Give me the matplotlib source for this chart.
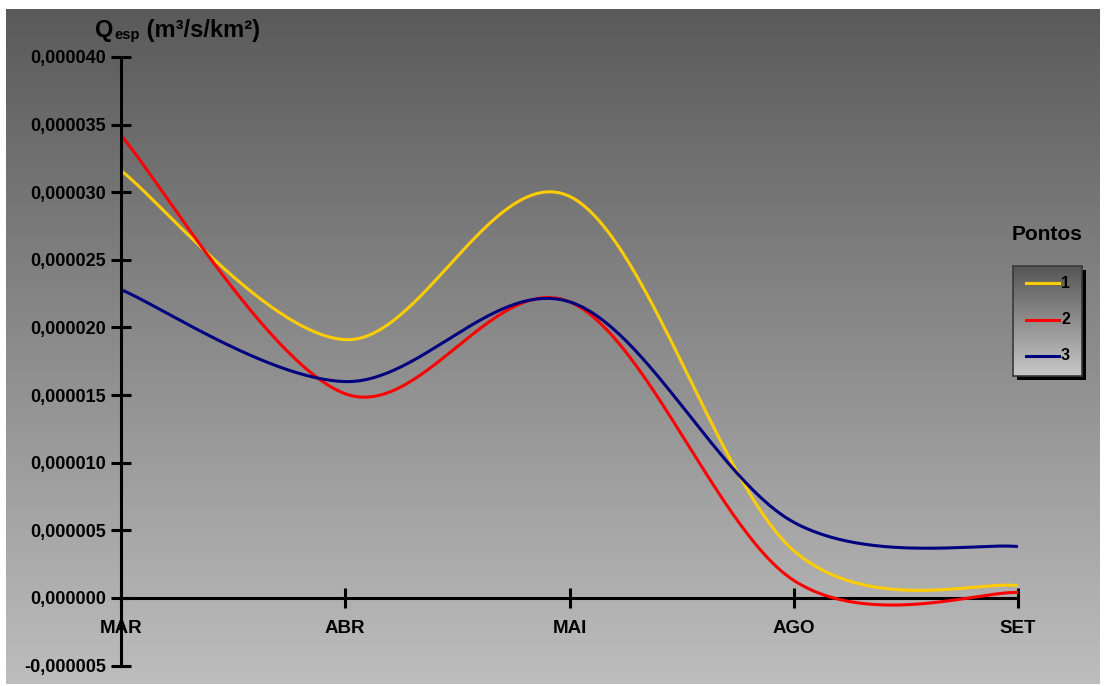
import numpy as np
import matplotlib
matplotlib.use("Agg")
import matplotlib.pyplot as plt
from matplotlib.patches import Rectangle
from matplotlib.lines import Line2D

plt.rcParams['font.family'] = ['Liberation Sans', 'DejaVu Sans']
plt.rcParams['font.weight'] = 'bold'

# Specific discharge per sampling point (m³/s/km²)
months = ["MAR", "ABR", "MAI", "AGO", "SET"]
ponto_1 = [0.0000316, 0.0000191, 0.0000297, 0.0000035, 0.0000009]
ponto_2 = [0.0000342, 0.0000151, 0.0000219, 0.0000013, 0.0000004]
ponto_3 = [0.0000228, 0.0000160, 0.0000219, 0.0000056, 0.0000038]
series_names = ["1", "2", "3"]
series_colors = ["#FFCC00", "#FF0000", "#000080"]

yticks = np.arange(-0.000005, 0.0000401, 0.000005)


def smooth(xs, ys, n=60):
    """Cubic Bezier smoothing through every point (Catmull-Rom style)."""
    pts = np.column_stack([xs, ys]).astype(float)
    m = len(pts)
    out = []
    for i in range(m - 1):
        p0 = pts[max(i - 1, 0)]
        p1 = pts[i]
        p2 = pts[i + 1]
        p3 = pts[min(i + 2, m - 1)]
        c1 = p1 + (p2 - p0) / 6.0
        c2 = p2 - (p3 - p1) / 6.0
        t = np.linspace(0, 1, n)[:, None]
        seg = ((1 - t) ** 3) * p1 + 3 * ((1 - t) ** 2) * t * c1 \
            + 3 * (1 - t) * t ** 2 * c2 + t ** 3 * p2
        out.append(seg if i == 0 else seg[1:])
    arr = np.vstack(out)
    return arr[:, 0], arr[:, 1]


W, H = 1104, 686
fig = plt.figure(figsize=(W / 100, H / 100), dpi=100)
fig.patch.set_facecolor("white")

# gray gradient panel behind everything
bg = fig.add_axes([6 / W, 1 - 684 / H, (1100 - 6) / W, (684 - 9) / H], zorder=0)
grad = np.linspace(0, 1, 256)[:, None]
bg.imshow(grad, aspect="auto", cmap=matplotlib.colors.LinearSegmentedColormap.from_list(
    "g", ["#5a5a5a", "#bdbdbd"]), extent=[0, 1, 0, 1], origin="upper")
bg.set_axis_off()

ax = fig.add_axes([121 / W, 1 - 665.6 / H, (1018 - 121) / W, (665.6 - 57) / H], zorder=1)
ax.patch.set_alpha(0)

x = np.arange(len(months))
for vals, color in zip([ponto_1, ponto_2, ponto_3], series_colors):
    sx, sy = smooth(x, vals)
    ax.plot(sx, sy, color=color, lw=2.2, solid_capstyle="butt", zorder=3, clip_on=False)

ax.set_xlim(0, 4)
ax.set_ylim(-0.000005, 0.000040)
ax.spines["top"].set_visible(False)
ax.spines["right"].set_visible(False)
ax.spines["left"].set_linewidth(2.2)
ax.spines["bottom"].set_linewidth(2.2)
ax.spines["bottom"].set_position(("data", 0))
ax.spines["left"].set_zorder(4)
ax.spines["bottom"].set_zorder(2)

ax.set_yticks(yticks)
ax.set_yticklabels([f"{v:.6f}".replace(".", ",").replace("-0,000000", "0,000000") for v in yticks],
                   fontsize=13, fontweight="bold")
ax.set_xticks(x)
ax.set_xticklabels(months, fontsize=13.5, fontweight="bold")
ax.tick_params(axis="y", direction="inout", length=14, width=2.2, pad=4)
ax.tick_params(axis="x", direction="inout", length=14, width=2.2, pad=9)

# axis title with subscript
t1 = fig.text(95 / W, 1 - 37 / H, "Q", fontsize=17, fontweight="bold", ha="left", va="baseline")
t2 = ax.annotate("esp", xy=(1, 0), xycoords=t1, xytext=(0.5, 0), textcoords="offset points",
                 fontsize=10.5, fontweight="bold", ha="left", va="bottom")
ax.annotate(" (m³/s/km²)", xy=(1, 0), xycoords=t2, fontsize=17, fontweight="bold",
            ha="left", va="bottom", annotation_clip=False)

# legend: title and shaded box
fig.text(1047 / W, 1 - 240 / H, "Pontos", fontsize=15, fontweight="bold", ha="center", va="baseline")
lx0, lx1, ly0, ly1 = 1013, 1082, 266, 376
shadow = Rectangle((lx0 / W + 4 / W, 1 - (ly1 + 4) / H), (lx1 - lx0) / W, (ly1 - ly0) / H,
                   transform=fig.transFigure, facecolor="black", edgecolor="none", zorder=5)
fig.patches.append(shadow)
lg = fig.add_axes([lx0 / W, 1 - ly1 / H, (lx1 - lx0) / W, (ly1 - ly0) / H], zorder=6)
lg.imshow(grad, aspect="auto", cmap=matplotlib.colors.LinearSegmentedColormap.from_list(
    "g2", ["#555555", "#c8c8c8"]), extent=[0, 1, 0, 1], origin="upper")
lg.set_xlim(0, 1)
lg.set_ylim(0, 1)
lg.set_xticks([])
lg.set_yticks([])
for s in lg.spines.values():
    s.set_color("#3a3a3a")
    s.set_linewidth(1.2)
for i, (name, color) in enumerate(zip(series_names, series_colors)):
    yy = 1 - (283 + 36.5 * i - ly0) / (ly1 - ly0)
    lg.add_line(Line2D([(1026 - lx0) / (lx1 - lx0), (1059 - lx0) / (lx1 - lx0)], [yy, yy],
                       color=color, lw=2.2))
    lg.text((1061 - lx0) / (lx1 - lx0), yy, name, fontsize=11.5, fontweight="bold",
            ha="left", va="center")

fig.savefig("out.png", dpi=100, facecolor=fig.get_facecolor())
